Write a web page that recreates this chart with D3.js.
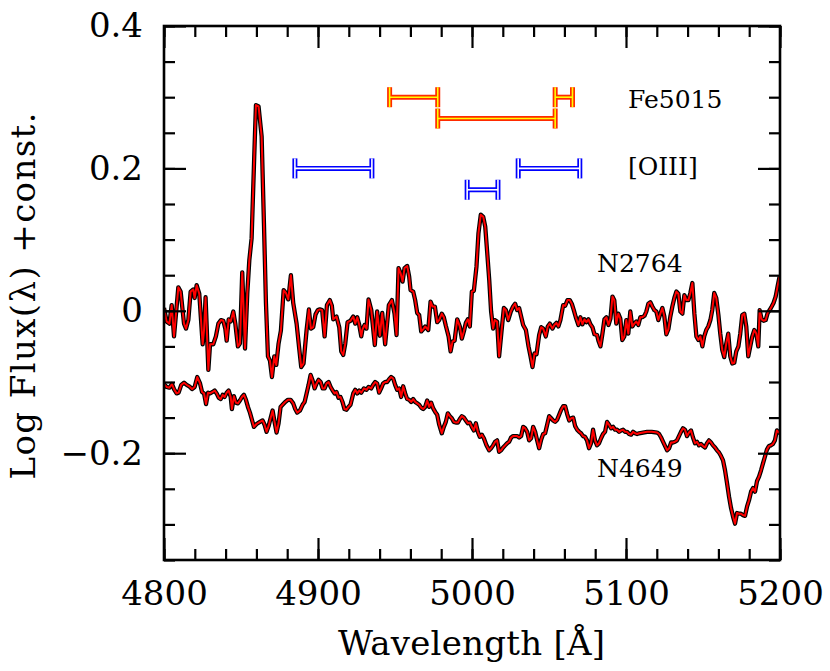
<!DOCTYPE html>
<html><head><meta charset="utf-8">
<script src="https://cdn.jsdelivr.net/npm/d3@7"></script>
<style>body{margin:0;background:#fff}</style>
</head><body><svg id="c" width="830" height="671"></svg>
<script>
// ---- data ----
const xTickValues = [4800, 4900, 5000, 5100, 5200];
const xTickLabels = ["4800", "4900", "5000", "5100", "5200"];
const yTickValues = [-0.2, 0, 0.2, 0.4];
const yTickLabels = ["\u22120.2", "0", "0.2", "0.4"];

// [wavelength (Å), log flux + const]
const n2764 = [
[4800.0,0.004],[4801.7,-0.015],[4803.5,-0.018],[4805.0,0.008],[4806.5,-0.036],[4809.3,0.033],[4810.8,0.027],
[4813.0,-0.018],[4814.3,-0.025],[4815.8,-0.013],[4817.3,0.027],[4819.0,0.030],[4819.9,0.018],[4821.2,0.036],
[4822.9,0.024],[4824.2,-0.018],[4825.1,-0.047],[4826.0,-0.027],[4827.0,0.019],[4828.8,-0.083],[4829.9,-0.047],
[4832.0,-0.047],[4833.7,-0.036],[4835.3,-0.018],[4837.0,-0.013],[4838.5,-0.014],[4839.8,-0.025],[4840.7,-0.042],
[4842.0,-0.012],[4843.3,-0.015],[4845.0,-0.001],[4846.3,-0.018],[4848.0,-0.050],[4849.3,-0.046],[4850.8,0.054],
[4852.6,-0.053],[4854.1,0.025],[4855.4,0.071],[4856.9,0.102],[4858.6,0.217],[4859.7,0.289],[4861.4,0.287],
[4863.4,0.245],[4864.9,0.123],[4866.2,0.011],[4867.5,-0.064],[4868.8,-0.070],[4870.1,-0.093],[4871.6,-0.064],
[4872.9,-0.076],[4874.4,-0.046],[4875.9,-0.028],[4877.7,0.029],[4879.2,0.025],[4880.7,0.016],[4882.4,0.050],
[4883.9,0.011],[4886.1,-0.018],[4887.8,-0.053],[4889.1,-0.079],[4890.6,-0.074],[4892.6,-0.027],[4894.1,0.002],
[4895.4,-0.025],[4896.9,-0.023],[4898.4,-0.005],[4899.9,0.001],[4901.2,0.002],[4902.7,0.001],[4904.3,-0.036],
[4905.8,0.008],[4907.7,0.015],[4909.0,0.007],[4909.9,-0.012],[4912.0,-0.008],[4913.8,-0.023],[4915.1,-0.057],
[4916.4,-0.062],[4917.7,-0.046],[4919.2,-0.016],[4921.1,-0.014],[4922.9,-0.008],[4924.2,-0.018],[4925.5,-0.009],
[4926.8,-0.020],[4928.1,-0.036],[4928.9,-0.026],[4930.2,-0.020],[4931.5,-0.025],[4932.8,0.016],[4934.6,0.001],
[4936.9,-0.048],[4938.4,-0.001],[4940.2,-0.035],[4941.7,-0.003],[4943.6,-0.047],[4946.0,0.008],
[4948.0,0.015],[4949.7,-0.004],[4951.0,-0.034],[4952.3,0.060],[4953.6,0.053],[4954.9,0.041],[4956.2,0.060],
[4957.9,0.063],[4959.2,0.048],[4960.1,0.029],[4961.8,0.027],[4963.1,0.015],[4964.4,-0.003],[4965.7,-0.006],
[4967.0,-0.029],[4968.3,-0.026],[4969.6,-0.022],[4971.6,-0.027],[4973.1,0.013],[4974.4,0.006],[4975.9,0.006],
[4977.4,-0.016],[4978.7,-0.013],[4980.4,-0.004],[4981.7,-0.009],[4983.0,-0.021],[4984.8,-0.036],[4986.1,-0.057],
[4987.4,-0.043],[4988.7,-0.042],[4990.4,-0.012],[4992.1,-0.022],[4993.4,-0.039],[4994.7,-0.029],[4996.0,-0.017],
[4997.3,-0.012],[4998.6,-0.022],[4999.9,0.027],[5001.2,0.028],[5002.9,0.062],[5004.2,0.109],[5005.7,0.135],
[5007.3,0.132],[5008.6,0.118],[5009.9,0.081],[5011.2,0.043],[5012.4,-0.001],[5013.7,-0.025],[5014.8,-0.013],
[5016.3,-0.015],[5017.6,-0.064],[5019.2,-0.028],[5020.7,0.004],[5022.0,0.001],[5023.5,-0.013],[5025.2,-0.001],
[5026.7,0.006],[5028.0,0.010],[5029.3,0.001],[5030.6,0.004],[5031.9,-0.008],[5033.2,-0.020],[5035.0,-0.027],
[5036.7,-0.050],[5038.0,-0.064],[5039.3,-0.079],[5040.6,-0.060],[5041.9,-0.061],[5043.6,-0.034],[5044.9,-0.023],
[5046.2,-0.025],[5047.9,-0.036],[5049.2,-0.022],[5050.5,-0.018],[5052.2,-0.025],[5053.5,-0.020],[5054.8,-0.017],
[5056.1,-0.022],[5057.4,-0.013],[5059.2,0.008],[5060.5,0.007],[5062.0,0.015],[5063.5,0.015],[5064.8,0.010],
[5066.1,0.001],[5067.4,-0.009],[5069.1,-0.020],[5070.4,-0.009],[5071.7,-0.019],[5073.0,-0.012],[5074.3,-0.016],
[5075.6,-0.012],[5076.9,-0.019],[5078.2,-0.023],[5079.5,-0.033],[5081.2,-0.034],
[5082.1,-0.042],[5083.4,-0.050],[5084.7,-0.032],[5086.0,-0.012],[5087.3,-0.009],[5088.6,-0.020],[5089.9,-0.011],
[5091.2,0.020],[5092.4,0.015],[5093.7,-0.018],[5095.0,-0.004],[5096.3,-0.011],[5097.6,-0.041],[5098.9,-0.036],
[5100.2,-0.013],[5101.5,-0.032],[5102.8,-0.001],[5104.1,-0.022],[5105.4,-0.018],[5106.7,-0.015],[5108.0,-0.020],
[5109.3,-0.009],[5110.6,-0.009],[5112.0,-0.007],[5113.2,-0.001],[5114.5,0.010],[5115.8,0.012],[5117.1,0.006],
[5118.4,0.001],[5119.7,-0.001],[5121.0,-0.013],[5122.3,-0.004],[5123.6,0.004],[5124.9,-0.008],[5126.2,-0.033],
[5127.5,-0.026],[5128.8,-0.008],[5130.1,0.006],[5131.4,0.018],[5132.7,0.027],[5134.0,0.024],[5135.3,-0.001],
[5136.6,-0.004],[5137.9,0.022],[5139.2,0.015],[5140.5,0.015],[5141.8,0.025],[5143.1,0.039],[5144.4,-0.004],
[5145.7,-0.036],[5147.0,-0.041],[5148.3,-0.036],[5149.6,-0.050],[5150.8,-0.036],[5152.1,-0.027],[5153.4,-0.022],
[5154.8,-0.013],[5156.0,0.001],[5157.3,0.025],[5158.6,0.018],[5160.0,-0.006],[5161.2,-0.032],[5162.5,-0.055],
[5163.8,-0.065],[5165.1,-0.046],[5166.4,-0.032],[5167.7,-0.064],[5169.0,-0.074],[5170.3,-0.073],[5171.6,-0.057],
[5173.0,-0.050],[5174.2,-0.032],[5175.5,-0.006],[5176.8,-0.004],[5178.1,-0.022],[5179.4,-0.064],[5180.7,-0.050],
[5182.0,-0.036],[5183.3,-0.027],[5184.6,-0.032],[5185.9,-0.050],[5186.8,0.001],[5188.1,-0.012],[5189.4,-0.014],
[5190.7,-0.013],[5192.0,-0.003],[5193.3,0.001],[5194.6,0.006],[5195.8,0.011],[5197.2,0.020],[5198.4,0.034],
[5199.7,0.048]
];

const n4649 = [
[4800.0,-0.103],[4801.7,-0.107],[4803.5,-0.108],[4805.2,-0.103],[4806.5,-0.110],[4808.2,-0.116],[4809.5,-0.115],
[4811.2,-0.104],[4813.0,-0.101],[4814.7,-0.104],[4816.4,-0.106],[4818.2,-0.110],[4819.9,-0.107],[4821.6,-0.093],
[4823.4,-0.102],[4824.7,-0.114],[4826.0,-0.116],[4827.3,-0.131],[4828.6,-0.115],[4829.9,-0.116],[4831.6,-0.114],
[4832.9,-0.112],[4834.2,-0.116],[4835.5,-0.122],[4836.8,-0.124],[4838.1,-0.118],[4839.4,-0.121],[4840.7,-0.115],
[4842.0,-0.112],[4843.3,-0.121],[4844.1,-0.138],[4845.4,-0.120],[4846.7,-0.129],[4848.0,-0.130],[4849.3,-0.126],
[4850.6,-0.121],[4851.9,-0.118],[4853.2,-0.125],[4854.5,-0.135],[4855.8,-0.143],[4857.1,-0.153],[4858.4,-0.163],
[4860.1,-0.159],[4862.3,-0.156],[4864.0,-0.154],[4865.3,-0.160],[4866.6,-0.170],[4867.9,-0.162],[4869.2,-0.151],
[4870.5,-0.140],[4871.8,-0.156],[4873.1,-0.171],[4874.4,-0.158],[4875.7,-0.135],[4877.0,-0.132],[4878.7,-0.128],
[4880.5,-0.125],[4882.2,-0.125],[4883.9,-0.130],[4885.2,-0.138],[4886.5,-0.143],[4888.3,-0.140],[4890.0,-0.132],
[4891.3,-0.128],[4892.6,-0.116],[4893.9,-0.104],[4895.2,-0.090],[4896.5,-0.098],[4897.8,-0.109],[4899.1,-0.102],
[4900.4,-0.097],[4901.7,-0.100],[4903.0,-0.109],[4904.3,-0.109],[4905.6,-0.102],[4906.9,-0.100],[4908.2,-0.107],
[4909.5,-0.112],[4910.8,-0.116],[4912.0,-0.114],[4913.3,-0.122],[4914.6,-0.121],[4915.9,-0.128],[4917.2,-0.138],
[4918.5,-0.139],[4919.8,-0.135],[4921.1,-0.132],[4922.9,-0.116],[4924.2,-0.111],[4925.5,-0.116],[4926.8,-0.112],
[4928.1,-0.115],[4929.8,-0.109],[4931.5,-0.111],[4932.8,-0.107],[4934.5,-0.109],[4935.8,-0.104],[4937.1,-0.100],
[4938.4,-0.102],[4939.7,-0.115],[4941.0,-0.109],[4942.3,-0.102],[4943.6,-0.100],[4944.9,-0.100],[4946.2,-0.096],
[4947.5,-0.093],[4948.8,-0.095],[4950.1,-0.104],[4951.4,-0.111],[4952.7,-0.109],[4954.0,-0.121],[4955.3,-0.106],
[4956.6,-0.116],[4957.9,-0.124],[4959.2,-0.125],[4960.5,-0.128],[4961.8,-0.124],[4963.1,-0.128],[4964.4,-0.130],
[4965.7,-0.132],[4967.0,-0.136],[4968.3,-0.138],[4969.6,-0.135],[4970.9,-0.126],[4972.2,-0.135],[4973.5,-0.129],
[4974.8,-0.137],[4976.1,-0.142],[4977.4,-0.146],[4978.7,-0.160],[4980.4,-0.172],[4981.7,-0.163],[4983.0,-0.156],
[4984.3,-0.144],[4985.6,-0.148],[4986.9,-0.151],[4988.2,-0.156],[4989.5,-0.157],[4990.8,-0.157],[4992.1,-0.152],
[4993.4,-0.148],[4994.7,-0.150],[4996.0,-0.154],[4997.3,-0.158],[4998.6,-0.157],
[4999.9,-0.163],[5001.2,-0.168],[5002.5,-0.158],[5003.8,-0.170],[5005.1,-0.177],[5006.4,-0.174],[5007.7,-0.179],
[5009.4,-0.189],[5011.1,-0.196],[5012.4,-0.193],[5013.7,-0.189],[5015.0,-0.184],[5016.3,-0.182],[5017.6,-0.198],
[5018.9,-0.196],[5020.2,-0.192],[5021.5,-0.189],[5022.8,-0.186],[5024.1,-0.184],[5025.4,-0.178],[5026.7,-0.176],
[5028.0,-0.176],[5029.3,-0.176],[5030.6,-0.178],[5031.9,-0.176],[5033.2,-0.163],[5034.5,-0.165],[5035.8,-0.170],
[5037.1,-0.182],[5038.4,-0.179],[5039.7,-0.163],[5041.0,-0.170],[5042.3,-0.182],[5043.6,-0.193],[5044.9,-0.181],
[5046.2,-0.173],[5047.5,-0.172],[5048.8,-0.160],[5050.1,-0.148],[5051.4,-0.151],[5052.7,-0.154],[5054.0,-0.156],
[5055.3,-0.153],[5056.6,-0.146],[5057.9,-0.139],[5059.2,-0.134],[5060.5,-0.134],[5061.8,-0.145],[5063.1,-0.154],
[5064.4,-0.151],[5065.7,-0.150],[5067.0,-0.162],[5068.3,-0.167],[5069.6,-0.170],[5070.8,-0.172],[5072.1,-0.176],
[5073.4,-0.177],[5074.7,-0.182],[5076.0,-0.193],[5077.3,-0.186],[5078.6,-0.167],[5079.9,-0.182],[5081.2,-0.189],
[5082.5,-0.186],[5083.8,-0.179],[5085.1,-0.173],[5086.4,-0.170],[5087.7,-0.156],[5089.0,-0.160],[5090.3,-0.165],
[5091.6,-0.163],[5092.9,-0.167],[5094.2,-0.167],[5095.5,-0.170],[5096.8,-0.168],[5098.1,-0.167],[5099.4,-0.170],
[5100.7,-0.170],[5102.0,-0.173],[5103.3,-0.174],[5104.6,-0.170],[5105.9,-0.172],[5107.2,-0.173],[5108.5,-0.172],
[5111.1,-0.171],[5113.7,-0.170],[5116.7,-0.170],[5120.2,-0.171],[5121.5,-0.173],[5122.8,-0.178],[5124.1,-0.184],
[5125.4,-0.190],[5126.7,-0.196],[5128.0,-0.193],[5129.3,-0.185],[5130.5,-0.185],[5131.8,-0.184],[5133.1,-0.182],
[5134.4,-0.176],[5135.7,-0.170],[5137.0,-0.165],[5138.3,-0.167],[5139.6,-0.176],[5140.9,-0.171],[5142.2,-0.168],
[5143.5,-0.178],[5144.8,-0.186],[5146.1,-0.184],[5147.4,-0.189],[5148.7,-0.187],[5150.0,-0.190],[5151.3,-0.192],
[5152.6,-0.186],[5153.9,-0.182],[5155.2,-0.185],[5156.5,-0.189],[5157.8,-0.192],[5159.1,-0.196],[5160.4,-0.199],
[5161.7,-0.204],[5163.0,-0.210],[5164.3,-0.224],[5165.6,-0.242],[5166.9,-0.261],[5168.2,-0.277],[5169.5,-0.289],
[5170.8,-0.299],[5172.1,-0.284],[5173.4,-0.285],[5174.7,-0.285],[5176.0,-0.287],[5177.3,-0.288],[5178.6,-0.275],
[5179.9,-0.266],[5181.2,-0.254],[5182.5,-0.249],[5183.8,-0.254],[5185.1,-0.239],[5186.4,-0.233],[5187.7,-0.224],
[5189.0,-0.214],[5190.2,-0.205],[5191.5,-0.195],[5192.8,-0.190],[5194.1,-0.189],[5195.4,-0.187],[5196.7,-0.182],
[5198.0,-0.168],[5199.3,-0.171],[5200.0,-0.171]
];

// index bands: [start Å, end Å, level]
const fe5015Bands = [[4946.5, 4977.75, 0.30], [4977.75, 5054.0, 0.27], [5054.0, 5065.25, 0.30]];
const oiiiBands   = [[4885.0, 4935.0, 0.20], [4996.85, 5016.85, 0.17], [5030.0, 5070.0, 0.20]];

const textLabels = [
  {text: "Fe5015", x: 5101.3, y: 0.297},
  {text: "[OIII]", x: 5101.3, y: 0.203},
  {text: "N2764",  x: 5081.2, y: 0.067},
  {text: "N4649",  x: 5081.2, y: -0.221}
];

// ---- drawing ----
const L = 164, R = 780, T = 26, B = 560;
const svg = d3.select("#c");
const x = d3.scaleLinear().domain([4800, 5200]).range([L, R]);
const y = d3.scaleLinear().domain([-0.35, 0.4]).range([B, T]);
const FONT = "'DejaVu Serif', serif";

svg.append("defs").append("clipPath").attr("id", "clip")
  .append("rect").attr("x", L).attr("y", T).attr("width", R - L).attr("height", B - T);

// spectra
const line = d3.line().x(d => x(d[0])).y(d => y(d[1]));
const g = svg.append("g").attr("clip-path", "url(#clip)");
[n2764, n4649].forEach(s => {
  g.append("path").datum(s).attr("d", line).attr("fill", "none")
    .attr("stroke", "#000").attr("stroke-width", 4.3).attr("stroke-linejoin", "round");
  g.append("path").datum(s).attr("d", line).attr("fill", "none")
    .attr("stroke", "#ff0000").attr("stroke-width", 2.0).attr("stroke-linejoin", "round");
});

// index bars
function drawBands(bands, outer, inner) {
  const cap = 10;
  const gg = svg.append("g");
  const segs = [];
  bands.forEach(b => {
    segs.push([x(b[0]), y(b[2]), x(b[1]), y(b[2])]);
    segs.push([x(b[0]), y(b[2]) - cap, x(b[0]), y(b[2]) + cap]);
    segs.push([x(b[1]), y(b[2]) - cap, x(b[1]), y(b[2]) + cap]);
  });
  [[outer, 5], [inner, 1.6]].forEach(([c, w]) => {
    gg.selectAll(null).data(segs).join("line")
      .attr("x1", d => d[0]).attr("y1", d => d[1]).attr("x2", d => d[2]).attr("y2", d => d[3])
      .attr("stroke", c).attr("stroke-width", w).attr("stroke-linecap", "butt");
  });
}
drawBands(fe5015Bands, "#ff2a00", "#ffff00");
drawBands(oiiiBands, "#0000ff", "#ffffff");

// axes
function styleAxis(sel) {
  sel.select(".domain").remove();
  sel.selectAll(".tick line").attr("stroke", "#000").attr("stroke-width", 2.2);
  sel.selectAll("text").attr("font-family", FONT).attr("font-size", 34).attr("fill", "#000");
}
const xMinor = d3.range(4800, 5200.1, 20);
const yMinor = d3.range(-0.35, 0.401, 0.05);
const MAJ = 22, MIN = 11;

svg.append("g").attr("transform", `translate(0,${B})`)
  .call(d3.axisBottom(x).tickValues(xMinor).tickSize(-MIN).tickFormat("")).call(styleAxis);
svg.append("g").attr("transform", `translate(0,${B})`)
  .call(d3.axisBottom(x).tickValues(xTickValues).tickSize(-MAJ).tickPadding(21)
    .tickFormat((d, i) => xTickLabels[i])).call(styleAxis);
svg.append("g").attr("transform", `translate(0,${T})`)
  .call(d3.axisTop(x).tickValues(xMinor).tickSize(-MIN).tickFormat("")).call(styleAxis);
svg.append("g").attr("transform", `translate(0,${T})`)
  .call(d3.axisTop(x).tickValues(xTickValues).tickSize(-MAJ).tickFormat("")).call(styleAxis);

svg.append("g").attr("transform", `translate(${L},0)`)
  .call(d3.axisLeft(y).tickValues(yMinor).tickSize(-MIN).tickFormat("")).call(styleAxis);
svg.append("g").attr("transform", `translate(${L},0)`)
  .call(d3.axisLeft(y).tickValues(yTickValues).tickSize(-MAJ).tickPadding(21)
    .tickFormat((d, i) => yTickLabels[i])).call(styleAxis);
svg.append("g").attr("transform", `translate(${R},0)`)
  .call(d3.axisRight(y).tickValues(yMinor).tickSize(-MIN).tickFormat("")).call(styleAxis);
svg.append("g").attr("transform", `translate(${R},0)`)
  .call(d3.axisRight(y).tickValues(yTickValues).tickSize(-MAJ).tickFormat("")).call(styleAxis);

// frame
svg.append("rect").attr("x", L).attr("y", T).attr("width", R - L).attr("height", B - T)
  .attr("fill", "none").attr("stroke", "#000").attr("stroke-width", 2.6);

// axis titles
svg.append("text").attr("x", 471.5).attr("y", 655).attr("text-anchor", "middle")
  .attr("font-family", FONT).attr("font-size", 34).attr("textLength", 267).attr("lengthAdjust", "spacing")
  .text("Wavelength [\u00C5]");
svg.append("text").attr("transform", "translate(35,296) rotate(-90)").attr("text-anchor", "middle")
  .attr("font-family", FONT).attr("font-size", 34).attr("textLength", 367).attr("lengthAdjust", "spacing")
  .text("Log Flux(\u03BB)  +const.");

// in-plot labels
svg.append("g").selectAll("text").data(textLabels).join("text")
  .attr("x", d => x(d.x)).attr("y", d => y(d.y)).attr("dy", "0.35em")
  .attr("font-family", FONT).attr("font-size", 25).attr("fill", "#000")
  .text(d => d.text);
</script></body></html>
